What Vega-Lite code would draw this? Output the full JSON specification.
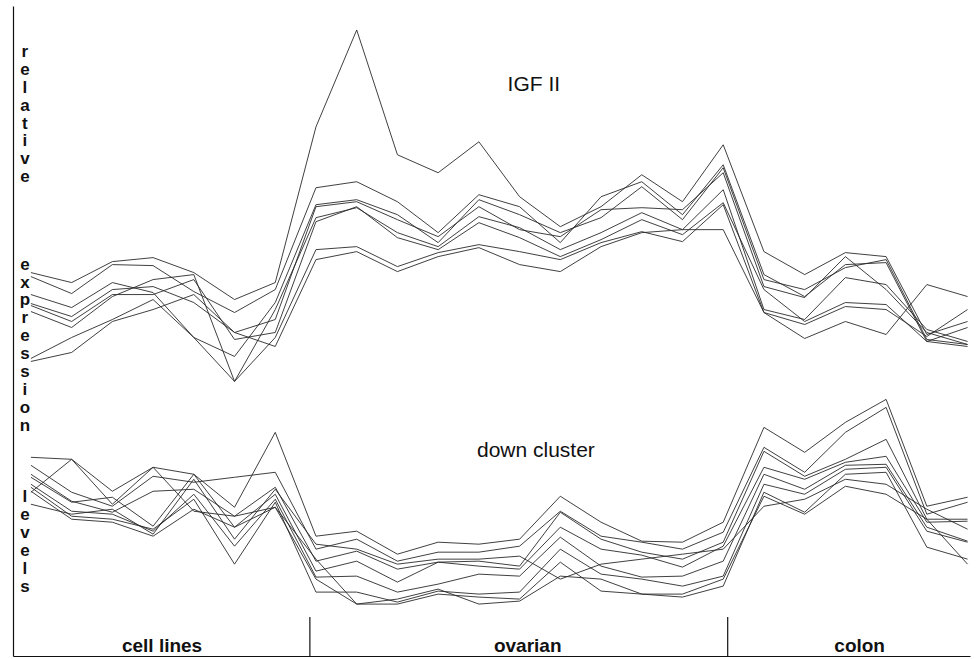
{
  "$schema": "https://vega.github.io/schema/vega-lite/v6.json",
  "width": 977,
  "height": 659,
  "autosize": {"type": "fit", "contains": "padding"},
  "padding": {"left": 13, "top": 6, "right": 7, "bottom": 2},
  "background": "white",
  "config": {
    "view": {"stroke": null},
    "font": "Liberation Sans",
    "axis": {"domainColor": "#111", "domainWidth": 1.2, "ticks": false, "labels": false, "grid": false, "title": null, "minExtent": 0, "maxExtent": 0}
  },
  "datasets": {
    "series": [
      {"line":"igfA","sample":0,"level":38.4},{"line":"igfA","sample":1,"level":37.4},{"line":"igfA","sample":2,"level":39.5},{"line":"igfA","sample":3,"level":39.9},{"line":"igfA","sample":4,"level":38.4},{"line":"igfA","sample":5,"level":35.7},{"line":"igfA","sample":6,"level":37.4},{"line":"igfA","sample":7,"level":53.0},{"line":"igfA","sample":8,"level":62.7},{"line":"igfA","sample":9,"level":50.2},{"line":"igfA","sample":10,"level":48.4},{"line":"igfA","sample":11,"level":51.5},{"line":"igfA","sample":12,"level":46.0},{"line":"igfA","sample":13,"level":43.0},{"line":"igfA","sample":14,"level":45.0},{"line":"igfA","sample":15,"level":48.2},{"line":"igfA","sample":16,"level":45.5},{"line":"igfA","sample":17,"level":51.2},{"line":"igfA","sample":18,"level":40.5},{"line":"igfA","sample":19,"level":38.2},{"line":"igfA","sample":20,"level":40.4},{"line":"igfA","sample":21,"level":40.0},{"line":"igfA","sample":22,"level":32.2},{"line":"igfA","sample":23,"level":33.5},
      {"line":"igfB","sample":0,"level":38.0},{"line":"igfB","sample":1,"level":36.3},{"line":"igfB","sample":2,"level":39.2},{"line":"igfB","sample":3,"level":39.1},{"line":"igfB","sample":4,"level":36.5},{"line":"igfB","sample":5,"level":34.4},{"line":"igfB","sample":6,"level":36.7},{"line":"igfB","sample":7,"level":46.9},{"line":"igfB","sample":8,"level":47.5},{"line":"igfB","sample":9,"level":45.5},{"line":"igfB","sample":10,"level":42.4},{"line":"igfB","sample":11,"level":46.2},{"line":"igfB","sample":12,"level":45.0},{"line":"igfB","sample":13,"level":41.4},{"line":"igfB","sample":14,"level":46.0},{"line":"igfB","sample":15,"level":47.5},{"line":"igfB","sample":16,"level":44.2},{"line":"igfB","sample":17,"level":49.2},{"line":"igfB","sample":18,"level":38.2},{"line":"igfB","sample":19,"level":36.0},{"line":"igfB","sample":20,"level":39.2},{"line":"igfB","sample":21,"level":39.4},{"line":"igfB","sample":22,"level":31.5},{"line":"igfB","sample":23,"level":32.9},
      {"line":"igfC","sample":0,"level":36.2},{"line":"igfC","sample":1,"level":34.9},{"line":"igfC","sample":2,"level":37.4},{"line":"igfC","sample":3,"level":36.4},{"line":"igfC","sample":4,"level":31.9},{"line":"igfC","sample":5,"level":30.0},{"line":"igfC","sample":6,"level":35.4},{"line":"igfC","sample":7,"level":45.2},{"line":"igfC","sample":8,"level":45.7},{"line":"igfC","sample":9,"level":44.2},{"line":"igfC","sample":10,"level":41.4},{"line":"igfC","sample":11,"level":45.7},{"line":"igfC","sample":12,"level":44.2},{"line":"igfC","sample":13,"level":42.4},{"line":"igfC","sample":14,"level":43.9},{"line":"igfC","sample":15,"level":47.0},{"line":"igfC","sample":16,"level":43.7},{"line":"igfC","sample":17,"level":48.9},{"line":"igfC","sample":18,"level":37.7},{"line":"igfC","sample":19,"level":36.7},{"line":"igfC","sample":20,"level":38.9},{"line":"igfC","sample":21,"level":39.7},{"line":"igfC","sample":22,"level":31.7},{"line":"igfC","sample":23,"level":31.2},
      {"line":"igfD","sample":0,"level":35.3},{"line":"igfD","sample":1,"level":34.0},{"line":"igfD","sample":2,"level":36.7},{"line":"igfD","sample":3,"level":37.0},{"line":"igfD","sample":4,"level":35.4},{"line":"igfD","sample":5,"level":32.4},{"line":"igfD","sample":6,"level":33.7},{"line":"igfD","sample":7,"level":45.0},{"line":"igfD","sample":8,"level":45.5},{"line":"igfD","sample":9,"level":43.7},{"line":"igfD","sample":10,"level":42.0},{"line":"igfD","sample":11,"level":45.0},{"line":"igfD","sample":12,"level":42.7},{"line":"igfD","sample":13,"level":42.0},{"line":"igfD","sample":14,"level":44.7},{"line":"igfD","sample":15,"level":44.9},{"line":"igfD","sample":16,"level":44.7},{"line":"igfD","sample":17,"level":48.4},{"line":"igfD","sample":18,"level":37.0},{"line":"igfD","sample":19,"level":35.9},{"line":"igfD","sample":20,"level":40.0},{"line":"igfD","sample":21,"level":36.7},{"line":"igfD","sample":22,"level":32.4},{"line":"igfD","sample":23,"level":31.2},
      {"line":"igfE","sample":0,"level":34.5},{"line":"igfE","sample":1,"level":32.9},{"line":"igfE","sample":2,"level":36.0},{"line":"igfE","sample":3,"level":37.7},{"line":"igfE","sample":4,"level":38.2},{"line":"igfE","sample":5,"level":27.5},{"line":"igfE","sample":6,"level":34.7},{"line":"igfE","sample":7,"level":43.9},{"line":"igfE","sample":8,"level":44.9},{"line":"igfE","sample":9,"level":42.4},{"line":"igfE","sample":10,"level":41.0},{"line":"igfE","sample":11,"level":44.0},{"line":"igfE","sample":12,"level":42.9},{"line":"igfE","sample":13,"level":40.7},{"line":"igfE","sample":14,"level":42.4},{"line":"igfE","sample":15,"level":44.4},{"line":"igfE","sample":16,"level":42.7},{"line":"igfE","sample":17,"level":46.7},{"line":"igfE","sample":18,"level":34.7},{"line":"igfE","sample":19,"level":33.7},{"line":"igfE","sample":20,"level":37.9},{"line":"igfE","sample":21,"level":37.2},{"line":"igfE","sample":22,"level":32.7},{"line":"igfE","sample":23,"level":31.5},
      {"line":"igfF","sample":0,"level":35.1},{"line":"igfF","sample":1,"level":33.5},{"line":"igfF","sample":2,"level":36.2},{"line":"igfF","sample":3,"level":36.2},{"line":"igfF","sample":4,"level":37.7},{"line":"igfF","sample":5,"level":31.7},{"line":"igfF","sample":6,"level":32.4},{"line":"igfF","sample":7,"level":43.5},{"line":"igfF","sample":8,"level":45.0},{"line":"igfF","sample":9,"level":41.9},{"line":"igfF","sample":10,"level":40.7},{"line":"igfF","sample":11,"level":43.4},{"line":"igfF","sample":12,"level":41.9},{"line":"igfF","sample":13,"level":40.0},{"line":"igfF","sample":14,"level":41.7},{"line":"igfF","sample":15,"level":43.7},{"line":"igfF","sample":16,"level":42.2},{"line":"igfF","sample":17,"level":45.4},{"line":"igfF","sample":18,"level":36.7},{"line":"igfF","sample":19,"level":33.5},{"line":"igfF","sample":20,"level":35.4},{"line":"igfF","sample":21,"level":35.2},{"line":"igfF","sample":22,"level":31.5},{"line":"igfF","sample":23,"level":31.0},
      {"line":"igfG","sample":0,"level":29.8},{"line":"igfG","sample":1,"level":31.9},{"line":"igfG","sample":2,"level":33.7},{"line":"igfG","sample":3,"level":35.7},{"line":"igfG","sample":4,"level":31.9},{"line":"igfG","sample":5,"level":27.5},{"line":"igfG","sample":6,"level":31.9},{"line":"igfG","sample":7,"level":40.7},{"line":"igfG","sample":8,"level":41.0},{"line":"igfG","sample":9,"level":39.0},{"line":"igfG","sample":10,"level":40.4},{"line":"igfG","sample":11,"level":41.2},{"line":"igfG","sample":12,"level":40.5},{"line":"igfG","sample":13,"level":39.7},{"line":"igfG","sample":14,"level":41.4},{"line":"igfG","sample":15,"level":42.5},{"line":"igfG","sample":16,"level":41.5},{"line":"igfG","sample":17,"level":45.2},{"line":"igfG","sample":18,"level":34.4},{"line":"igfG","sample":19,"level":33.2},{"line":"igfG","sample":20,"level":35.0},{"line":"igfG","sample":21,"level":34.7},{"line":"igfG","sample":22,"level":32.0},{"line":"igfG","sample":23,"level":34.7},
      {"line":"igfH","sample":0,"level":29.5},{"line":"igfH","sample":1,"level":30.4},{"line":"igfH","sample":2,"level":33.5},{"line":"igfH","sample":3,"level":34.7},{"line":"igfH","sample":4,"level":36.2},{"line":"igfH","sample":5,"level":32.4},{"line":"igfH","sample":6,"level":31.0},{"line":"igfH","sample":7,"level":39.7},{"line":"igfH","sample":8,"level":40.5},{"line":"igfH","sample":9,"level":38.5},{"line":"igfH","sample":10,"level":40.0},{"line":"igfH","sample":11,"level":40.9},{"line":"igfH","sample":12,"level":39.2},{"line":"igfH","sample":13,"level":38.5},{"line":"igfH","sample":14,"level":41.0},{"line":"igfH","sample":15,"level":42.4},{"line":"igfH","sample":16,"level":42.7},{"line":"igfH","sample":17,"level":42.7},{"line":"igfH","sample":18,"level":34.4},{"line":"igfH","sample":19,"level":31.8},{"line":"igfH","sample":20,"level":33.5},{"line":"igfH","sample":21,"level":32.2},{"line":"igfH","sample":22,"level":37.2},{"line":"igfH","sample":23,"level":36.0},
      {"line":"dnA","sample":0,"level":19.9},{"line":"dnA","sample":1,"level":19.7},{"line":"dnA","sample":2,"level":16.5},{"line":"dnA","sample":3,"level":18.9},{"line":"dnA","sample":4,"level":18.2},{"line":"dnA","sample":5,"level":14.9},{"line":"dnA","sample":6,"level":22.4},{"line":"dnA","sample":7,"level":12.0},{"line":"dnA","sample":8,"level":12.5},{"line":"dnA","sample":9,"level":10.2},{"line":"dnA","sample":10,"level":11.4},{"line":"dnA","sample":11,"level":11.2},{"line":"dnA","sample":12,"level":11.7},{"line":"dnA","sample":13,"level":16.0},{"line":"dnA","sample":14,"level":13.4},{"line":"dnA","sample":15,"level":11.5},{"line":"dnA","sample":16,"level":11.4},{"line":"dnA","sample":17,"level":13.4},{"line":"dnA","sample":18,"level":22.9},{"line":"dnA","sample":19,"level":20.4},{"line":"dnA","sample":20,"level":23.4},{"line":"dnA","sample":21,"level":25.7},{"line":"dnA","sample":22,"level":15.0},{"line":"dnA","sample":23,"level":15.9},
      {"line":"dnB","sample":0,"level":19.1},{"line":"dnB","sample":1,"level":16.4},{"line":"dnB","sample":2,"level":15.0},{"line":"dnB","sample":3,"level":18.0},{"line":"dnB","sample":4,"level":17.4},{"line":"dnB","sample":5,"level":17.9},{"line":"dnB","sample":6,"level":18.4},{"line":"dnB","sample":7,"level":10.7},{"line":"dnB","sample":8,"level":11.7},{"line":"dnB","sample":9,"level":9.5},{"line":"dnB","sample":10,"level":10.4},{"line":"dnB","sample":11,"level":10.4},{"line":"dnB","sample":12,"level":11.0},{"line":"dnB","sample":13,"level":14.5},{"line":"dnB","sample":14,"level":12.0},{"line":"dnB","sample":15,"level":11.4},{"line":"dnB","sample":16,"level":10.7},{"line":"dnB","sample":17,"level":12.4},{"line":"dnB","sample":18,"level":20.9},{"line":"dnB","sample":19,"level":18.4},{"line":"dnB","sample":20,"level":22.4},{"line":"dnB","sample":21,"level":24.9},{"line":"dnB","sample":22,"level":14.2},{"line":"dnB","sample":23,"level":15.4},
      {"line":"dnC","sample":0,"level":18.2},{"line":"dnC","sample":1,"level":15.5},{"line":"dnC","sample":2,"level":14.4},{"line":"dnC","sample":3,"level":16.5},{"line":"dnC","sample":4,"level":16.7},{"line":"dnC","sample":5,"level":14.0},{"line":"dnC","sample":6,"level":16.9},{"line":"dnC","sample":7,"level":9.5},{"line":"dnC","sample":8,"level":10.5},{"line":"dnC","sample":9,"level":8.7},{"line":"dnC","sample":10,"level":9.4},{"line":"dnC","sample":11,"level":9.5},{"line":"dnC","sample":12,"level":9.0},{"line":"dnC","sample":13,"level":14.4},{"line":"dnC","sample":14,"level":11.7},{"line":"dnC","sample":15,"level":10.4},{"line":"dnC","sample":16,"level":9.7},{"line":"dnC","sample":17,"level":11.4},{"line":"dnC","sample":18,"level":20.5},{"line":"dnC","sample":19,"level":18.0},{"line":"dnC","sample":20,"level":19.7},{"line":"dnC","sample":21,"level":21.7},{"line":"dnC","sample":22,"level":13.7},{"line":"dnC","sample":23,"level":13.7},
      {"line":"dnD","sample":0,"level":17.9},{"line":"dnD","sample":1,"level":15.4},{"line":"dnD","sample":2,"level":15.9},{"line":"dnD","sample":3,"level":13.0},{"line":"dnD","sample":4,"level":18.2},{"line":"dnD","sample":5,"level":12.9},{"line":"dnD","sample":6,"level":16.2},{"line":"dnD","sample":7,"level":8.5},{"line":"dnD","sample":8,"level":9.5},{"line":"dnD","sample":9,"level":7.4},{"line":"dnD","sample":10,"level":9.4},{"line":"dnD","sample":11,"level":9.0},{"line":"dnD","sample":12,"level":8.7},{"line":"dnD","sample":13,"level":12.9},{"line":"dnD","sample":14,"level":10.7},{"line":"dnD","sample":15,"level":10.1},{"line":"dnD","sample":16,"level":8.9},{"line":"dnD","sample":17,"level":11.0},{"line":"dnD","sample":18,"level":18.9},{"line":"dnD","sample":19,"level":17.7},{"line":"dnD","sample":20,"level":19.4},{"line":"dnD","sample":21,"level":20.0},{"line":"dnD","sample":22,"level":13.4},{"line":"dnD","sample":23,"level":13.5},
      {"line":"dnE","sample":0,"level":17.2},{"line":"dnE","sample":1,"level":14.5},{"line":"dnE","sample":2,"level":14.2},{"line":"dnE","sample":3,"level":12.5},{"line":"dnE","sample":4,"level":16.2},{"line":"dnE","sample":5,"level":11.0},{"line":"dnE","sample":6,"level":15.7},{"line":"dnE","sample":7,"level":7.9},{"line":"dnE","sample":8,"level":8.0},{"line":"dnE","sample":9,"level":6.4},{"line":"dnE","sample":10,"level":7.2},{"line":"dnE","sample":11,"level":8.2},{"line":"dnE","sample":12,"level":8.0},{"line":"dnE","sample":13,"level":11.9},{"line":"dnE","sample":14,"level":9.0},{"line":"dnE","sample":15,"level":7.9},{"line":"dnE","sample":16,"level":8.0},{"line":"dnE","sample":17,"level":9.5},{"line":"dnE","sample":18,"level":18.2},{"line":"dnE","sample":19,"level":16.7},{"line":"dnE","sample":20,"level":19.1},{"line":"dnE","sample":21,"level":19.2},{"line":"dnE","sample":22,"level":12.9},{"line":"dnE","sample":23,"level":11.5},
      {"line":"dnF","sample":0,"level":16.9},{"line":"dnF","sample":1,"level":14.0},{"line":"dnF","sample":2,"level":13.7},{"line":"dnF","sample":3,"level":12.7},{"line":"dnF","sample":4,"level":15.7},{"line":"dnF","sample":5,"level":9.2},{"line":"dnF","sample":6,"level":15.4},{"line":"dnF","sample":7,"level":6.4},{"line":"dnF","sample":8,"level":6.4},{"line":"dnF","sample":9,"level":5.4},{"line":"dnF","sample":10,"level":6.5},{"line":"dnF","sample":11,"level":6.2},{"line":"dnF","sample":12,"level":6.4},{"line":"dnF","sample":13,"level":10.7},{"line":"dnF","sample":14,"level":8.2},{"line":"dnF","sample":15,"level":7.7},{"line":"dnF","sample":16,"level":7.0},{"line":"dnF","sample":17,"level":8.0},{"line":"dnF","sample":18,"level":17.2},{"line":"dnF","sample":19,"level":16.2},{"line":"dnF","sample":20,"level":18.7},{"line":"dnF","sample":21,"level":18.9},{"line":"dnF","sample":22,"level":12.5},{"line":"dnF","sample":23,"level":11.4},
      {"line":"dnG","sample":0,"level":16.5},{"line":"dnG","sample":1,"level":13.7},{"line":"dnG","sample":2,"level":13.4},{"line":"dnG","sample":3,"level":12.0},{"line":"dnG","sample":4,"level":14.7},{"line":"dnG","sample":5,"level":12.9},{"line":"dnG","sample":6,"level":14.9},{"line":"dnG","sample":7,"level":7.7},{"line":"dnG","sample":8,"level":5.2},{"line":"dnG","sample":9,"level":5.2},{"line":"dnG","sample":10,"level":6.2},{"line":"dnG","sample":11,"level":5.9},{"line":"dnG","sample":12,"level":5.7},{"line":"dnG","sample":13,"level":9.4},{"line":"dnG","sample":14,"level":6.5},{"line":"dnG","sample":15,"level":6.2},{"line":"dnG","sample":16,"level":5.9},{"line":"dnG","sample":17,"level":7.0},{"line":"dnG","sample":18,"level":16.4},{"line":"dnG","sample":19,"level":14.4},{"line":"dnG","sample":20,"level":18.2},{"line":"dnG","sample":21,"level":18.4},{"line":"dnG","sample":22,"level":10.9},{"line":"dnG","sample":23,"level":9.7},
      {"line":"dnH","sample":0,"level":16.4},{"line":"dnH","sample":1,"level":19.7},{"line":"dnH","sample":2,"level":15.2},{"line":"dnH","sample":3,"level":18.9},{"line":"dnH","sample":4,"level":14.5},{"line":"dnH","sample":5,"level":14.0},{"line":"dnH","sample":6,"level":14.9},{"line":"dnH","sample":7,"level":9.7},{"line":"dnH","sample":8,"level":5.2},{"line":"dnH","sample":9,"level":5.7},{"line":"dnH","sample":10,"level":6.7},{"line":"dnH","sample":11,"level":5.2},{"line":"dnH","sample":12,"level":5.5},{"line":"dnH","sample":13,"level":8.0},{"line":"dnH","sample":14,"level":7.7},{"line":"dnH","sample":15,"level":6.2},{"line":"dnH","sample":16,"level":6.2},{"line":"dnH","sample":17,"level":7.7},{"line":"dnH","sample":18,"level":16.0},{"line":"dnH","sample":19,"level":14.2},{"line":"dnH","sample":20,"level":17.0},{"line":"dnH","sample":21,"level":16.2},{"line":"dnH","sample":22,"level":13.7},{"line":"dnH","sample":23,"level":9.2},
      {"line":"dnI","sample":0,"level":15.2},{"line":"dnI","sample":1,"level":14.2},{"line":"dnI","sample":2,"level":14.7},{"line":"dnI","sample":3,"level":12.2},{"line":"dnI","sample":4,"level":17.7},{"line":"dnI","sample":5,"level":11.7},{"line":"dnI","sample":6,"level":16.7},{"line":"dnI","sample":7,"level":11.2},{"line":"dnI","sample":8,"level":10.7},{"line":"dnI","sample":9,"level":9.2},{"line":"dnI","sample":10,"level":9.7},{"line":"dnI","sample":11,"level":9.7},{"line":"dnI","sample":12,"level":10.0},{"line":"dnI","sample":13,"level":7.7},{"line":"dnI","sample":14,"level":9.2},{"line":"dnI","sample":15,"level":9.7},{"line":"dnI","sample":16,"level":10.2},{"line":"dnI","sample":17,"level":10.7},{"line":"dnI","sample":18,"level":15.0},{"line":"dnI","sample":19,"level":15.7},{"line":"dnI","sample":20,"level":17.7},{"line":"dnI","sample":21,"level":17.2},{"line":"dnI","sample":22,"level":14.7},{"line":"dnI","sample":23,"level":12.7}
    ],
    "clusters": [
      {"label": "IGF II", "sample": 12.35, "level": 56.6},
      {"label": "down cluster", "sample": 12.4, "level": 19.9}
    ],
    "groups": [
      {"label": "cell lines", "sample": 3.22, "level": 0.4},
      {"label": "ovarian", "sample": 12.2, "level": 0.4},
      {"label": "colon", "sample": 20.35, "level": 0.4}
    ],
    "dividers": [
      {"sample": 6.85, "level": 0, "top": 3.9},
      {"sample": 17.11, "level": 0, "top": 3.9}
    ],
    "ytitle": [
      {"word": "relative", "letters": ["r","e","l","a","t","i","v","e"], "sample": -0.147, "level": 61.3},
      {"word": "expression", "letters": ["e","x","p","r","e","s","s","i","o","n"], "sample": -0.147, "level": 40.0},
      {"word": "levels", "letters": ["l","e","v","e","l","s"], "sample": -0.147, "level": 16.7}
    ]
  },
  "layer": [
    {
      "data": {"name": "series"},
      "mark": {"type": "line", "color": "#2a2a2a", "strokeWidth": 0.9},
      "encoding": {
        "x": {"field": "sample", "type": "quantitative", "scale": {"domain": [-0.44, 23.06], "nice": false, "zero": false}, "axis": {"orient": "bottom"}},
        "y": {"field": "level", "type": "quantitative", "scale": {"domain": [0, 65.1], "nice": false, "zero": false}, "axis": {"orient": "left"}},
        "detail": {"field": "line", "type": "nominal"},
        "order": {"field": "sample", "type": "quantitative"}
      }
    },
    {
      "data": {"name": "dividers"},
      "mark": {"type": "rule", "color": "#111", "strokeWidth": 1.2},
      "encoding": {
        "x": {"field": "sample", "type": "quantitative"},
        "y": {"field": "level", "type": "quantitative"},
        "y2": {"field": "top"}
      }
    },
    {
      "data": {"name": "clusters"},
      "mark": {"type": "text", "fontSize": 21, "fontWeight": "normal", "color": "#111", "align": "center", "baseline": "alphabetic"},
      "encoding": {
        "x": {"field": "sample", "type": "quantitative"},
        "y": {"field": "level", "type": "quantitative"},
        "text": {"field": "label"}
      }
    },
    {
      "data": {"name": "groups"},
      "mark": {"type": "text", "fontSize": 19, "fontWeight": "bold", "color": "#111", "align": "center", "baseline": "alphabetic"},
      "encoding": {
        "x": {"field": "sample", "type": "quantitative"},
        "y": {"field": "level", "type": "quantitative"},
        "text": {"field": "label"}
      }
    },
    {
      "data": {"name": "ytitle"},
      "mark": {"type": "text", "fontSize": 17, "fontWeight": "bold", "color": "#111", "align": "center", "baseline": "top", "lineHeight": 17.9},
      "encoding": {
        "x": {"field": "sample", "type": "quantitative"},
        "y": {"field": "level", "type": "quantitative"},
        "text": {"field": "letters"}
      }
    }
  ]
}
